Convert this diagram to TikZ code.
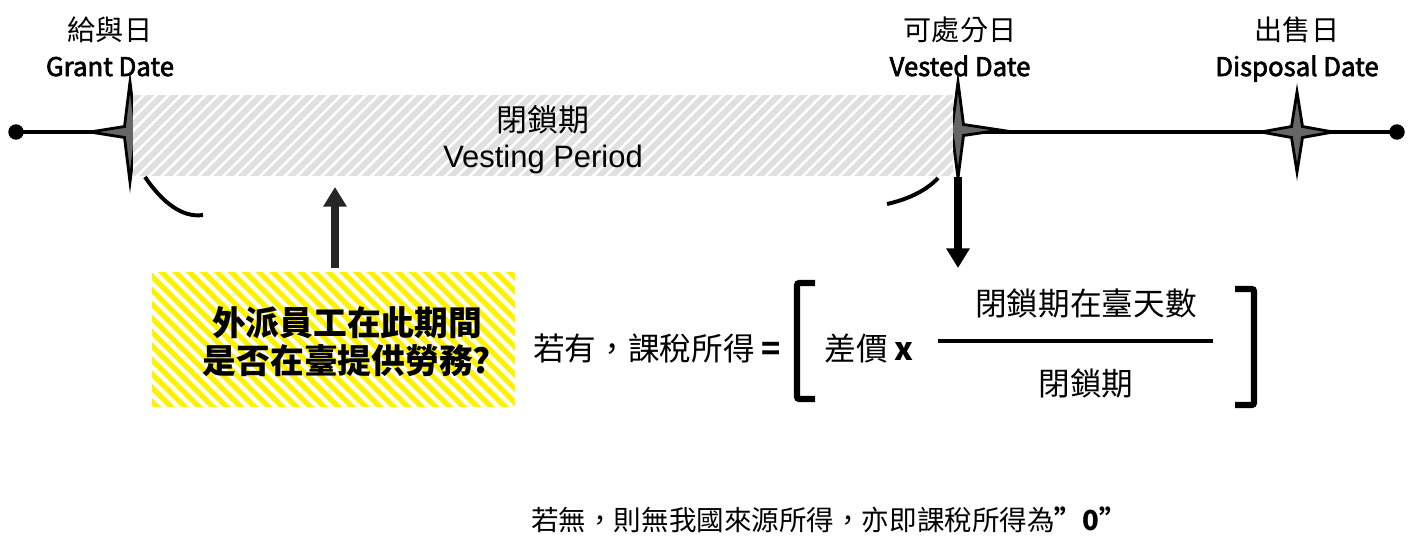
\documentclass[tikz,border=0pt]{standalone}
\usepackage{fontspec}
\setmainfont{Noto Sans CJK TC}
\newfontfamily\arialfont{Liberation Sans}
\newfontface\medfont[FakeBold=2.5]{Noto Sans CJK TC}
\usepackage{tikz}
\usetikzlibrary{positioning,arrows.meta,patterns.meta}

% four-point date marker: x, y, half width, half height
\newcommand{\sparkle}[4]{%
  \filldraw[sparkle, shift={(#1,#2)}] (0,-#4) -- (5.5,-5.5) -- (#3,0) -- (5.5,5.5) -- (0,#4)
    -- (-5.5,5.5) -- (-#3,0) -- (-5.5,-5.5) -- cycle;}

\begin{document}
\begin{tikzpicture}[x=0.025cm, y=-0.025cm,
    dot/.style={circle, fill=black, inner sep=0pt, minimum size=11pt},
    sparkle/.style={fill=black!60, draw=black, line width=2pt, miter limit=20},
    datelbl/.style={anchor=base, font=\fontsize{20}{26}\selectfont},
    datelatin/.style={anchor=base, font=\medfont\fontsize{18.3}{26}\selectfont},
    formula/.style={font=\fontsize{22.5}{28}\selectfont},
    bracket/.style={line width=4.3pt, rounded corners=1.5pt},
    bigarrow/.style={line width=5pt, -{Triangle[length=14pt,width=16pt]}}]
    \useasboundingbox (0,0) rectangle (1413,535);

        % Time line
        \node[dot] (start) at (16,132) {};
        \node[dot] (end) at (1397,132) {};
        \draw[line width=2.8pt] (start.center) -- (end.center);
        \sparkle{130}{132}{40}{50}
        \sparkle{958}{130}{42}{48}
        \sparkle{1297}{132}{36}{40}

        % Vesting period
        \fill[black!12] (133,95) rectangle (953,176);
        \fill[pattern={Lines[angle=45,distance=6.2pt,line width=1.8pt]}, pattern color=white] (133,95) rectangle (953,176);
        \node[align=center, font=\fontsize{22}{25.6}\selectfont] (period) at (543,140) {閉鎖期\\\arialfont Vesting Period};

        % Dates
        \node[datelbl] (grant) at (110,40) {給與日};
        \node[datelatin] (grantEn) at (110,76) {Grant Date};
        \node[datelbl] (vested) at (960,40) {可處分日};
        \node[datelatin] (vestedEn) at (960,76) {Vested Date};
        \node[datelbl] (disposal) at (1297,40) {出售日};
        \node[datelatin] (disposalEn) at (1297,76) {Disposal Date};

        % Brace ends
        \draw[line width=2.8pt] (145,177) .. controls (162,202) and (182,218) .. (203,215);
        \draw[line width=2.8pt] (938,178) .. controls (925,192) and (905,200) .. (887,204);

        % Question
        \fill[yellow] (152,272) rectangle (515,407);
        \fill[pattern={Lines[angle=-45,distance=7pt,line width=3pt]}, pattern color=white] (152,272) rectangle (515,407);
        \node[align=center, font=\fontsize{24}{27}\selectfont\bfseries] (question) at (347,342) {外派員工在此期間\\是否在臺提供勞務?};
        \coordinate (askfrom) at (335,268);
        \coordinate (askto) at (335,187);
        \draw[bigarrow, black!85] (askfrom) -- (askto);

        % Formula
        \coordinate (vestfrom) at (958,177);
        \coordinate (vestto) at (958,268);
        \draw[bigarrow] (vestfrom) -- (vestto);
        \node[formula, anchor=east] (iftax) at (786,348) {若有，課稅所得 \textbf{=}};
        \draw[bracket] (815,283) -- (797,283) -- (797,399) -- (815,399);
        \draw[bracket] (1235,289) -- (1254,289) -- (1254,405) -- (1235,405);
        \node[formula] (diff) at (869,348) {差價 \textbf{x}};
        \node[formula] (numer) at (1086,303) {閉鎖期在臺天數};
        \node[formula] (denom) at (1086,383) {閉鎖期};
        \draw[line width=3.5pt] (938,341) -- (1213,341);

        % Otherwise
        \node[font=\fontsize{19.6}{26}\selectfont] (notax) at (829,520) {若無，則無我國來源所得，亦即課稅所得為\textbf{\char34 0\char34}};
    \end{tikzpicture}
\end{document}
